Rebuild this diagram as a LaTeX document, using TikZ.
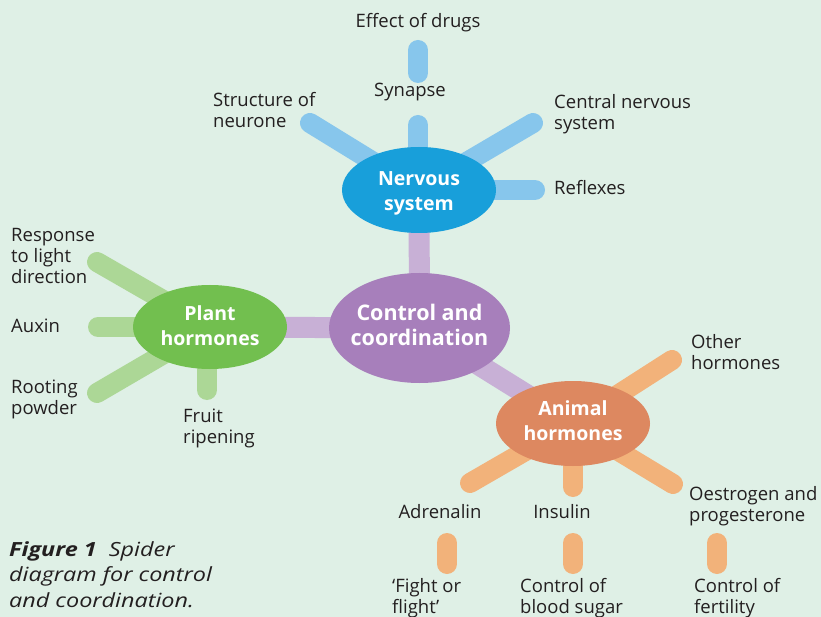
\documentclass[tikz,border=0pt]{standalone}
\usepackage{fontspec}
\setmainfont{Open Sans}
\newfontfamily\capfont[FakeStretch=1.2]{Open Sans}
\definecolor{bg}{HTML}{DFF0E6}
\definecolor{purpleD}{HTML}{A77FBB}
\definecolor{purpleL}{HTML}{C8B0D6}
\definecolor{blueD}{HTML}{189FDA}
\definecolor{blueL}{HTML}{87C6EC}
\definecolor{greenD}{HTML}{72BF4F}
\definecolor{greenL}{HTML}{ACD796}
\definecolor{orangeD}{HTML}{DD8860}
\definecolor{orangeL}{HTML}{F2B27A}
\definecolor{ink}{HTML}{231F20}
\tikzset{
  hub/.style={ellipse, minimum width=154pt, minimum height=86pt, inner sep=0pt},
  hubtext/.style={inner sep=0pt, text=white, font=\fontsize{19.5}{25}\selectfont\bfseries, align=center},
  spoke/.style={line width=20pt, line cap=round},
  lbl/.style={inner sep=0pt, text=ink, font=\fontsize{18.5}{21}\selectfont, align=left},
}
\usetikzlibrary{shapes.geometric}
\begin{document}
\begin{tikzpicture}[x=1pt,y=-1pt]
\fill[bg] (0,0) rectangle (821,617);
\useasboundingbox (0,0) rectangle (821,617);
% hub positions
\coordinate (cC) at (419.5,328);
\coordinate (nC) at (419,190);
\coordinate (pC) at (210,327);
\coordinate (aC) at (573,423.5);
% purple connectors
\draw[purpleL, line width=21pt] (cC) -- (nC);
\draw[purpleL, line width=21pt] (cC) -- (pC);
\draw[purpleL, line width=21pt] (cC) -- (aC);
% nervous spokes
\coordinate (nS1) at (310,123);
\coordinate (nS2) at (418,125);
\coordinate (nS3) at (533,123);
\coordinate (nS4) at (535,190);
\coordinate (dT) at (418,50);
\coordinate (dB) at (418,73);
\draw[spoke, blueL] (nC) -- (nS1);
\draw[spoke, blueL] (418,190) -- (nS2);
\draw[spoke, blueL] (nC) -- (nS3);
\draw[spoke, blueL] (nC) -- (nS4);
\draw[spoke, blueL] (dT) -- (dB);
% plant spokes
\coordinate (pS1) at (97,262);
\coordinate (pS2) at (98,327);
\coordinate (pS3) at (97,393);
\coordinate (pS4) at (207,390);
\draw[spoke, greenL] (pC) -- (pS1);
\draw[spoke, greenL] (pC) -- (pS2);
\draw[spoke, greenL] (pC) -- (pS3);
\draw[spoke, greenL] (207,327) -- (pS4);
% animal spokes
\coordinate (aS1) at (672,360);
\coordinate (aS2) at (470,483);
\coordinate (aS3) at (573,487);
\coordinate (aS4) at (673,484);
\draw[spoke, orangeL] (aC) -- (aS1);
\draw[spoke, orangeL] (aC) -- (aS2);
\draw[spoke, orangeL] (aC) -- (aS3);
\draw[spoke, orangeL] (aC) -- (aS4);
\foreach \x/\n in {447/a,573/b,717/c}{
  \coordinate (t\n) at (\x,543);
  \coordinate (b\n) at (\x,564);
  \draw[spoke, orangeL] (t\n) -- (b\n);
}
% hubs
\node[hub, fill=purpleD, minimum width=181pt, minimum height=110pt] (ctrl) at (cC) {};
\node[hub, fill=blueD] (nerv) at (nC) {};
\node[hub, fill=greenD, minimum height=84pt] (plant) at (pC) {};
\node[hub, fill=orangeD, minimum height=85pt] (anim) at (aC) {};
\node[hubtext, font=\fontsize{21.5}{25}\selectfont\bfseries] (ctrlT) at ([yshift=3pt]ctrl.center) {Control and\\coordination};
\node[hubtext] (nervT) at ([yshift=-3pt]nerv.center) {Nervous\\system};
\node[hubtext] (plantT) at ([yshift=1pt]plant.center) {Plant\\hormones};
\node[hubtext] (animT) at ([yshift=2.5pt]anim.center) {Animal\\hormones};
% nervous labels
\node[lbl] (drugs) at (418,23) {Effect of drugs};
\node[lbl] (syn) at (410,92) {Synapse};
\node[lbl, anchor=west] (neur) at (213,110.5) {Structure of\\neurone};
\node[lbl, anchor=west] (cns) at (554,114) {Central nervous\\system};
\node[lbl, anchor=west] (refl) at (554,188) {Reflexes};
% plant labels
\node[lbl, anchor=west] (resp) at (11,255.5) {Response\\to light\\direction};
\node[lbl, anchor=west] (aux) at (11,326) {Auxin};
\node[lbl, anchor=west] (root) at (11,399.5) {Rooting\\powder};
\node[lbl, anchor=west] (fruit) at (183,428.5) {Fruit\\ripening};
% animal labels
\node[lbl, anchor=west] (oth) at (691,352.5) {Other\\hormones};
\node[lbl] (adr) at (440,512) {Adrenalin};
\node[lbl] (ins) at (562,512) {Insulin};
\node[lbl, anchor=west] (oest) at (689,506.5) {Oestrogen and\\progesterone};
\node[lbl, anchor=north west] (fight) at (392,578) {‘Fight or\\flight’};
\node[lbl, anchor=north west] (blood) at (520,578) {Control of\\blood sugar};
\node[lbl, anchor=north west] (fert) at (694,578) {Control of\\fertility};
% caption
\node[lbl, anchor=north west, font=\capfont\fontsize{19.5}{25.5}\selectfont\itshape] (cap) at (9,541)
  {\textbf{Figure 1}\ \ Spider\\diagram for control\\and coordination.};
\end{tikzpicture}
\end{document}
